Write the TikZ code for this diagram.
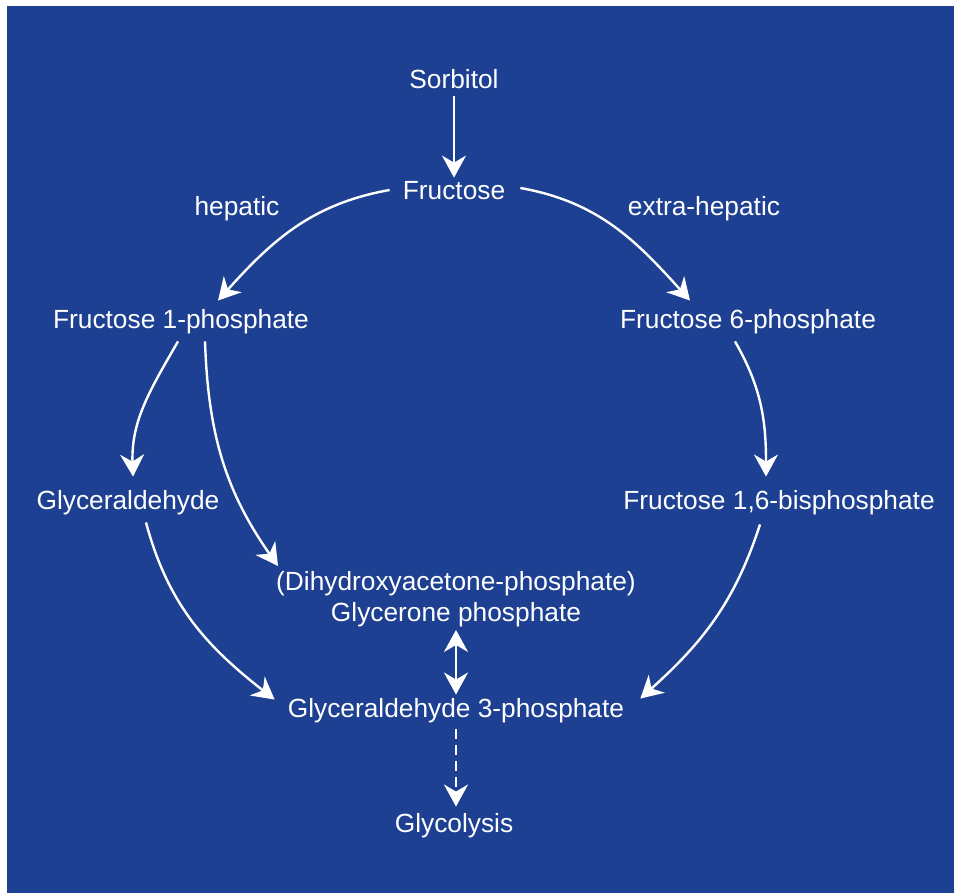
\documentclass[tikz,border=0pt]{standalone}
\usepackage{fontspec}
\setmainfont{Liberation Sans}
\usetikzlibrary{arrows.meta}
\definecolor{bgblue}{RGB}{30,64,146}
\begin{document}
\begin{tikzpicture}[x=1pt,y=-1pt,
  lbl/.style={text=white,inner sep=0pt,font=\fontsize{26.3}{31}\selectfont},
  conn/.style={draw=white,line width=2.4pt,-{Stealth[length=22pt,width=24pt,inset=7pt]}},
  dconn/.style={draw=white,line width=2.4pt,{Stealth[length=22pt,width=24pt,inset=7pt]}-{Stealth[length=22pt,width=24pt,inset=7pt]}}]
\useasboundingbox (0,0) rectangle (954,893);
\fill[bgblue] (7,6) rectangle (954,893);
\node[lbl] (sor) at (454,79) {Sorbitol};
\node[lbl] (fru) at (454,191) {Fructose};
\node[lbl] (hep) at (237,209) {hepatic};
\node[lbl] (ehep) at (704,209) {extra-hepatic};
\node[lbl] (f1p) at (181,322) {Fructose 1-phosphate};
\node[lbl] (f6p) at (748,322) {Fructose 6-phosphate};
\node[lbl] (gla) at (128,503) {Glyceraldehyde};
\node[lbl] (fbp) at (779,503) {Fructose 1,6-bisphosphate};
\node[lbl,align=center] (dhap) at (456,599) {(Dihydroxyacetone-phosphate)\\Glycerone phosphate};
\node[lbl] (g3p) at (456,711) {Glyceraldehyde 3-phosphate};
\node[lbl] (gly) at (454,826) {Glycolysis};
% connectors
\draw[conn] ([yshift=-7pt]sor.south) -- ([yshift=4pt]fru.north);
\draw[conn] ([xshift=-13pt,yshift=1pt]fru.west) to[out=190,in=48] ([xshift=37pt,yshift=9pt]f1p.north);
\draw[conn] ([xshift=15pt,yshift=3pt]fru.east) to[out=-10,in=132] ([xshift=-58pt,yshift=9pt]f6p.north);
\draw[conn] ([xshift=-3pt,yshift=-7pt]f1p.south) to[out=-120,in=92] ([xshift=5pt,yshift=14pt]gla.north);
\draw[conn] ([xshift=24pt,yshift=-7pt]f1p.south) to[out=-88,in=125] ([xshift=-178pt,yshift=5pt]dhap.north);
\draw[conn] ([xshift=-13pt,yshift=-7pt]f6p.south) to[out=-60,in=90] ([xshift=-13pt,yshift=14pt]fbp.north);
\draw[conn] ([xshift=18pt,yshift=-7pt]gla.south) to[out=-75,in=142] ([xshift=-13pt,yshift=-1pt]g3p.north west);
\draw[conn] ([xshift=-19pt,yshift=-9pt]fbp.south) to[out=-108,in=42] ([xshift=16pt,yshift=0pt]g3p.north east);
\draw[dconn] ([yshift=-3pt]dhap.south) -- ([yshift=4pt]g3p.north);
\draw[conn,dash pattern=on 10pt off 6pt] ([yshift=-6pt]g3p.south) -- ([yshift=7pt]g3p.south |- gly.north);
\end{tikzpicture}
\end{document}
